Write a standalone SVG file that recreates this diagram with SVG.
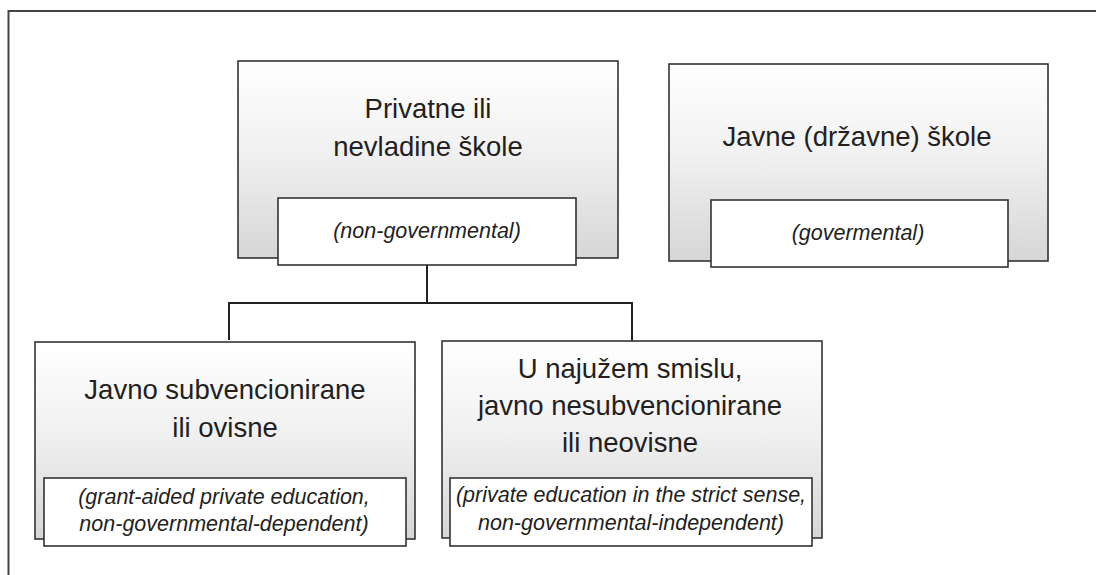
<svg xmlns="http://www.w3.org/2000/svg" width="1096" height="575" viewBox="0 0 1096 575">
<defs>
<linearGradient id="g" x1="0" y1="0" x2="0" y2="1">
<stop offset="0" stop-color="#ffffff"/>
<stop offset="0.45" stop-color="#f1f1f1"/>
<stop offset="1" stop-color="#d6d6d6"/>
</linearGradient>
<style>
.box{fill:url(#g);stroke:#333;stroke-width:1.6}
.inner{fill:#fff;stroke:#333;stroke-width:1.6}
.t{font-family:"Liberation Sans",Arial,sans-serif;font-size:27.5px;fill:#231f20;text-anchor:middle}
.i{font-family:"Liberation Sans",Arial,sans-serif;font-size:21.5px;font-style:italic;fill:#231f20;text-anchor:middle}
.c{fill:none;stroke:#222;stroke-width:2}
</style>
</defs>
<rect x="0" y="0" width="1096" height="575" fill="#fff"/>
<path d="M8.5 580 V11 H1100" fill="none" stroke="#444" stroke-width="2"/>
<g id="connectors">
<path class="c" d="M427 265 V303"/>
<path class="c" d="M229 340 V303 H632 V341"/>
</g>
<g id="node-privatne">
<rect class="box" x="238" y="61" width="380" height="197"/>
<text class="t" x="428" y="118">Privatne ili</text>
<text class="t" x="428" y="156">nevladine škole</text>
<rect class="inner" x="278" y="198" width="298" height="67"/>
<text class="i" x="427" y="238">(non-governmental)</text>
</g>
<g id="node-javne">
<rect class="box" x="669" y="64" width="379" height="197"/>
<text class="t" x="857" y="146">Javne (državne) škole</text>
<rect class="inner" x="711" y="200" width="297" height="67"/>
<text class="i" x="858" y="240">(govermental)</text>
</g>
<g id="node-subvencionirane">
<rect class="box" x="35" y="342" width="380" height="197"/>
<text class="t" x="225" y="399">Javno subvencionirane</text>
<text class="t" x="225" y="437">ili ovisne</text>
<rect class="inner" x="44" y="478" width="362" height="68"/>
<text class="i" x="224" y="504">(grant-aided private education,</text>
<text class="i" x="224" y="531">non-governmental-dependent)</text>
</g>
<g id="node-nesubvencionirane">
<rect class="box" x="442" y="341" width="380" height="197"/>
<text class="t" x="630" y="378">U najužem smislu,</text>
<text class="t" x="630" y="415">javno nesubvencionirane</text>
<text class="t" x="630" y="452">ili neovisne</text>
<rect class="inner" x="450" y="478" width="362" height="68"/>
<text class="i" x="631" y="502">(private education in the strict sense,</text>
<text class="i" x="631" y="530">non-governmental-independent)</text>
</g>
</svg>
